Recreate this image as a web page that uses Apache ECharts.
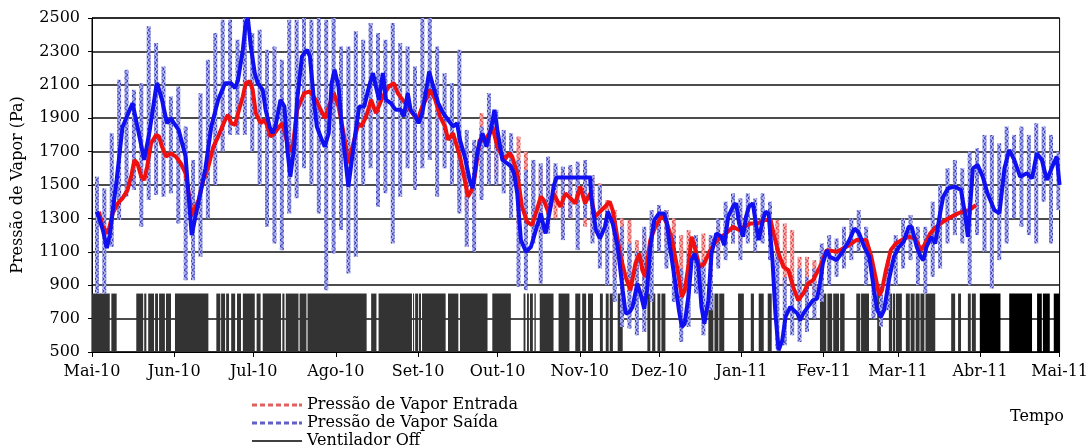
<!DOCTYPE html>
<html>
<head>
<meta charset="utf-8">
<script src="https://cdn.jsdelivr.net/npm/echarts@6/dist/echarts.min.js"></script>
<style>
  html, body { margin: 0; padding: 0; background: #fff; }
  #grafico { width: 1091px; height: 446px; }
</style>
</head>
<body>
<div id="grafico"></div>
<script>
// rótulos dos meses (eixo x)
const meses = ['Jan', 'Fev', 'Mar', 'Abr', 'Mai', 'Jun', 'Jul', 'Ago', 'Set', 'Out', 'Nov', 'Dez'];

// média móvel da pressão de vapor na saída: [dia desde 01/05/2010, Pa]
const mediaSaida = [
  [1.9,1340],[4.1,1230],[5.6,1123],[6.7,1200],[9.3,1530],[11.5,1847],[15.3,1990],[16,2000],[19.7,1650],[21.6,1810],
  [24.2,2087],[24.6,2110],[26.4,2010],[28.3,1870],[29.8,1900],[30.9,1870],[32.7,1830],[35.3,1670],[37.6,1200],[40.2,1400],
  [42.8,1600],[45,1850],[47.6,2010],[50.2,2110],[52.5,2110],[54,2080],[55.1,2130],[56.9,2310],[58,2470],[58.8,2500],
  [59.9,2330],[61.4,2170],[62.5,2110],[64.4,2070],[65.5,1950],[67,1850],[68.1,1810],[69.2,1850],[71.1,2010],[72.6,1970],
  [73.7,1710],[74.8,1550],[76.3,1730],[77.4,2010],[79.2,2270],[81.1,2310],[82.2,2270],[83.7,2010],[84.8,1850],[86.7,1770],
  [87.8,1730],[89.3,1810],[90.4,2110],[91.5,2190],[93,2090],[94.1,1870],[95.2,1710],[96.7,1490],[99,1770],[100.8,1970],
  [102.7,1970],[104.5,2090],[106,2170],[107.1,2090],[108.3,2010],[109.7,2170],[110.9,2010],[112.7,1990],[114.6,1950],[116.5,1950],
  [117.6,1910],[119.1,2050],[120.2,1950],[122,1910],[123.2,1870],[124.6,1930],[126.5,2110],[127.2,2180],[128.7,2090],[130.6,1990],
  [132.5,1930],[134.3,1890],[136.2,1850],[137.7,1870],[138.8,1770],[140.6,1670],[142.5,1530],[143.6,1480],[145.5,1710],[147.3,1810],
  [148.8,1730],[150.7,1850],[151.8,1950],[152.9,1830],[154.8,1650],[156.6,1630],[158.1,1610],[159.2,1570],[160.4,1450],[161.8,1170],
  [163.7,1100],[165.6,1130],[167.8,1250],[169.3,1330],[170.4,1250],[171.1,1210],[173,1370],[174.1,1490],[175.2,1545],[187.9,1545],
  [188.3,1430],[190.1,1230],[191.6,1180],[193.5,1250],[194.6,1340],[196.4,1270],[198.3,1130],[200.2,870],[201.3,730],[202.8,740],
  [203.9,770],[205.7,910],[206.9,850],[208.3,760],[209.4,870],[210.6,1130],[212.1,1290],[213.9,1330],[215.8,1330],[216.9,1270],
  [218,1130],[219.9,930],[221.4,750],[222.5,650],[223.6,670],[225.1,850],[226.2,1050],[227.3,1090],[228.8,1010],[229.9,770],
  [231,670],[232.5,810],[233.7,1090],[235.5,1210],[237.4,1190],[238.5,1140],[240,1310],[241.8,1370],[243,1390],[244.1,1270],
  [245.6,1190],[246.7,1310],[247.8,1370],[249.3,1390],[250.4,1270],[251.5,1170],[253,1290],[254.1,1340],[255.2,1330],[256.7,1050],
  [257.8,730],[259,510],[260.4,570],[261.6,710],[263.4,770],[266.1,730],[267.1,690],[268.3,730],[270.1,770],[272,810],
  [273.5,820],[274.6,910],[275.7,1030],[277.2,1110],[278.3,1070],[280.9,1050],[283.1,1100],[285.7,1170],[287.6,1240],[289.4,1210],
  [291.3,1130],[293.2,1070],[295,870],[296.2,750],[297.6,710],[298.8,750],[300.6,930],[302.5,1070],[304.4,1130],[306.2,1160],
  [308.1,1250],[309.2,1250],[311.1,1130],[312.6,1070],[313.6,1050],[314.8,1130],[316.6,1190],[318.1,1150],[319.9,1330],[321.1,1430],
  [322.9,1480],[325.6,1490],[327.8,1470],[329.3,1330],[330.4,1190],[332.3,1600],[334.1,1620],[336,1550],[337.8,1450],[340.4,1350],
  [342.3,1330],[344.2,1600],[346,1710],[347.9,1650],[350.1,1550],[352.7,1570],[354.6,1540],[356.4,1690],[358.3,1650],[360.2,1530],
  [362,1600],[363.9,1670],[365,1500]
];

// média móvel da pressão de vapor na entrada: [dia, Pa]
const mediaEntrada = [
  [2.6,1340],[4.1,1250],[6,1210],[7.8,1330],[9.7,1390],[11.5,1420],[13.4,1470],[14.9,1560],[16,1650],[17.1,1630],
  [18.6,1550],[19.7,1530],[20.8,1610],[22.3,1750],[24.2,1800],[25.3,1790],[26.4,1730],[27.9,1670],[29.8,1690],[31.6,1670],
  [33.5,1630],[35.3,1570],[36.5,1450],[37.6,1320],[40.2,1410],[42,1530],[43.9,1610],[45.8,1730],[47.6,1790],[50.2,1890],
  [51.3,1920],[52.5,1870],[54,1860],[55.1,1930],[56.9,2030],[58,2110],[59.5,2120],[60.6,2070],[61.8,1930],[63.6,1870],
  [65.1,1890],[66.2,1850],[67.3,1790],[68.8,1810],[70.7,1850],[71.8,1870],[73.7,1750],[75.5,1700],[77.4,1950],[80,2050],
  [82.2,2060],[84.8,2000],[87.8,1900],[91.2,2050],[93,1970],[94.9,1810],[96.7,1630],[98.6,1750],[100.5,1870],[101.6,1850],
  [103.4,1910],[105.3,2010],[107.1,1930],[109.7,2030],[112,2090],[113.9,2110],[115.3,2050],[117.2,2010],[119.1,1970],[120.9,1930],
  [122.8,1890],[124.6,1970],[126.5,2030],[127.6,2070],[129.5,2010],[131.3,1910],[133.2,1850],[134.3,1770],[136.2,1810],[138.8,1670],
  [140.6,1530],[141.8,1430],[143.2,1470],[144.4,1550],[146.2,1770],[148.1,1770],[150,1810],[151,1850],[152.9,1730],[155.6,1650],
  [157.4,1690],[158.5,1670],[160.4,1570],[162.2,1370],[164.1,1280],[166,1260],[167.8,1350],[169.3,1430],[170.4,1410],[172.3,1330],
  [174.1,1450],[176.7,1370],[178.6,1450],[180.5,1420],[182.3,1390],[184.2,1490],[186,1390],[187.9,1450],[189.8,1310],[191.6,1340],
  [193.5,1370],[195.3,1400],[196.4,1350],[197.5,1250],[199.4,1070],[201.3,950],[203.1,870],[205,1030],[206.5,1090],[207.6,990],
  [208.7,950],[210.6,1170],[212.5,1250],[215.1,1320],[216.9,1270],[218.8,1170],[220.7,1010],[222.5,830],[223.6,870],[225.1,1030],
  [226.2,1190],[227.3,1130],[229.2,1010],[231,1030],[232.9,1100],[234.8,1150],[236.6,1180],[239.2,1210],[241.8,1250],[244.1,1230],
  [246,1250],[248.5,1270],[251.1,1270],[253.4,1290],[256,1290],[257.1,1210],[259,1090],[260.8,1010],[262.7,990],[264.5,890],
  [266.4,810],[268.3,850],[270.1,910],[272,930],[274.6,1010],[277.2,1110],[280.9,1100],[284.6,1130],[288.3,1170],[292.1,1170],
  [294,1070],[295.8,930],[296.9,840],[298,870],[299.5,990],[301.3,1110],[303.2,1150],[305.5,1170],[308.1,1190],[310.7,1180],
  [312.6,1110],[314.4,1150],[316.2,1210],[318.5,1250],[321.1,1280],[324.1,1310],[326.7,1330],[328.5,1340],[331.1,1350],[333.4,1380]
];

// oscilação diária (faixas): máximos e mínimos, uma faixa a cada passoBanda dias
const inicioBanda = 1.86;
const passoBanda = 2.79;
const saidaMax = [
  1550,1480,1810,2130,2190,2070,2110,2450,2350,2210, 2030,2090,1850,1650,2050,2250,2410,2490,2490,2370,
  2500,2410,2430,2310,2330,2250,2490,2490,2500,2490, 2500,2490,2500,2330,2330,2420,2370,2470,2410,2370,
  2470,2350,2330,2210,2500,2500,2330,2170,2110,2310, 1830,1770,1850,2050,1950,1830,1810,1650,1590,1650,
  1630,1670,1630,1610,1620,1640,1650,1560,1500,1350, 1300,1250,1150,1100,1250,1350,1380,1350,1200,1000,
  1100,1200,1050,1200,1300,1400,1450,1420,1450,1420, 1450,1400,1150,950,950,1000,950,1000,1150,1200,
  1180,1250,1300,1350,1250,1000,900,1050,1200,1300, 1320,1250,1250,1400,1500,1600,1650,1600,1700,1720,
  1800,1800,1750,1850,1800,1850,1800,1870,1850,1800, 1700
];
const saidaMin = [
  850,850,1130,1290,1430,1470,1250,1410,1440,1430, 1450,1270,930,930,1070,1300,1500,1700,1800,1800,
  1800,1700,1500,1250,1150,1110,1330,1420,1600,1500, 1330,870,1090,1230,970,1070,1500,1600,1370,1450,
  1150,1430,1600,1470,1600,1650,1430,1600,1500,1330, 1130,1100,1410,1500,1500,1450,1300,890,870,1150,
  910,1210,1470,1170,1300,1110,1300,1150,1000,900, 800,650,640,600,620,800,1100,1000,800,560,
  650,850,600,750,1000,1050,1150,1050,1150,1100, 1150,1050,520,540,600,560,620,700,800,900,
  950,1000,1050,1100,900,700,650,750,900,1000, 1050,900,850,950,1000,1150,1200,1150,900,1200,
  1100,880,1050,1150,1300,1250,1200,1150,1400,1150, 1350
];
// faixas da entrada visíveis (a partir da faixa 48)
const inicioEntrada = 48;
const entradaMax = [
  1900,1850,1700,1700,1930,1900,1850,1800,1750,1790, 1700,1650,1600,1650,1600,1580,1600,1550,1600,1550,
  1510,1410,1350,1300,1290,1170,1200,1250,1300,1350, 1300,1200,1230,1150,1210,1190,1250,1300,1300,1320,
  1320,1300,1330,1320,1290,1270,1230,1070,1070,1050, 1100,1150
];
const entradaMin = [
  1500,1400,1350,1350,1500,1550,1550,1500,1450,1250, 1200,1250,1200,1250,1300,1250,1300,1200,1250,1200,
  1200,1100,950,850,850,850,850,1000,1100,1150, 1000,800,850,900,900,950,1050,1150,1150,1150,
  1200,1200,1200,1150,1000,900,850,750,750,800, 850,950
];

// períodos com ventilador desligado: [dia início, dia fim]
const ventiladorOff = [
  [0,6.7],[7.3,9.3],[16.7,19.3],[19.7,20.5],[21.2,23.4],[23.8,24.9],[25.3,27.5],[27.9,29.8],[31.3,43.9],[46.9,48.4],
  [48.7,50.2],[50.6,51.7],[52.5,54],[54.7,56.2],[56.9,61.4],[62.1,63.6],[64.4,71.3],[71.8,72.6],[73.1,77.9],[78.3,80.9],
  [81.3,103.6],[105.3,107.3],[108.1,120.7],[121.1,121.5],[121.9,123],[123.3,124.1],[124.5,133.4],[134.3,138.2],[138.8,149.2],[151,158],
  [162.8,163.5],[164.1,164.8],[165.2,166.3],[166.9,167.4],[168.9,174.1],[176,180.1],[182.3,184.2],[184.9,186.4],[187.1,189],[191.6,192.7],
  [193.8,194.9],[195.3,196.5],[198.3,200.2],[209.5,210.6],[211.3,212.5],[213.3,214.4],[214.8,216.3],[232.5,234.4],[234.8,236.3],[236.6,238.5],
  [243.7,245.9],[248.5,249.7],[251.5,253.4],[254.9,256.4],[274.6,277],[277.4,279.2],[279.6,281.8],[282.2,283.9],[288.3,289.8],[290.1,293.1],
  [296.2,297.6],[300.6,301.8],[302.1,302.9],[303.2,305.5],[307,308.5],[308.8,310.3],[310.7,312.2],[312.5,314],[314.4,318.1],[324.1,325.6],
  [326.7,327.8],[330.4,331.5],[331.9,333.4]
];
const ventiladorOffFinal = [[334.9,342.7],[346,354.6],[356.5,358.3],[358.7,361.3],[362.8,365]];
const nivelOff = 850;
const nivelBase = 500;

const t0 = new Date(2010, 4, 1).getTime();
const tFim = new Date(2011, 4, 1).getTime();
const DIA = 86400000;
function tempo(d) { return t0 + d * DIA; }

// textura hachurada das faixas
function hachura(fundo, traco) {
  const c = document.createElement('canvas');
  c.width = 4; c.height = 6;
  const g = c.getContext('2d');
  g.fillStyle = fundo;
  g.fillRect(0, 0, 4, 6);
  g.strokeStyle = traco;
  g.lineWidth = 1;
  g.beginPath(); g.moveTo(0, 0); g.lineTo(4, 3); g.lineTo(0, 6); g.stroke();
  return { image: c, repeat: 'repeat' };
}

function faixas(maximos, minimos, inicio) {
  return maximos.map((v, i) => [tempo(inicioBanda + passoBanda * (inicio + i)), minimos[i], v]);
}

function desenhaFaixa(cor) {
  return function (params, api) {
    const topo = api.coord([api.value(0), api.value(2)]);
    const base = api.coord([api.value(0), api.value(1)]);
    return {
      type: 'rect',
      shape: { x: topo[0] - 2, y: topo[1], width: 4, height: base[1] - topo[1] },
      style: { fill: cor }
    };
  };
}

function desenhaOff(cor) {
  return function (params, api) {
    const a = api.coord([api.value(0), nivelOff]);
    const b = api.coord([api.value(1), nivelBase]);
    return {
      type: 'rect',
      shape: { x: a[0], y: a[1], width: Math.max(1, b[0] - a[0]), height: b[1] - a[1] },
      style: { fill: cor }
    };
  };
}

const fonte = 'DejaVu Serif';
const iconeTracejado = 'path://M0,0h5v3h-5zM8,0h5v3h-5zM16,0h5v3h-5zM24,0h5v3h-5zM32,0h5v3h-5zM40,0h5v3h-5zM47,0h3v3h-3z';

// uma legenda por linha, para não quebrar em colunas
function legenda(topo, item) {
  return {
    orient: 'vertical',
    left: 252,
    top: topo,
    itemWidth: 50,
    itemHeight: 4,
    padding: 0,
    textStyle: { fontFamily: fonte, fontSize: 16, color: '#000' },
    data: [item]
  };
}

const grafico = echarts.init(document.getElementById('grafico'));

grafico.setOption({
  animation: false,
  textStyle: { fontFamily: fonte, color: '#000' },
  title: {
    text: 'Tempo',
    left: 1005,
    top: 404,
    textStyle: { fontFamily: fonte, fontSize: 16, fontWeight: 'normal', color: '#000' }
  },
  grid: { left: 92, right: 17, top: 18, bottom: 94, show: true, borderColor: '#000', borderWidth: 1 },
  legend: [
    legenda(397, { name: 'Pressão de Vapor Entrada', icon: iconeTracejado, itemStyle: { color: '#e06060' } }),
    legenda(415, { name: 'Pressão de Vapor Saída', icon: iconeTracejado, itemStyle: { color: '#6060c8' } }),
    legenda(433, { name: 'Ventilador Off', icon: 'path://M0,0h50v1.3h-50z', itemStyle: { color: '#000' } })
  ],
  xAxis: {
    type: 'time',
    min: t0,
    max: tFim,
    minInterval: 28 * DIA,
    maxInterval: 31 * DIA,
    splitLine: { show: false },
    axisLine: { lineStyle: { color: '#000', width: 1 } },
    axisTick: { show: true, length: 5, lineStyle: { color: '#000' } },
    axisLabel: {
      fontFamily: fonte,
      fontSize: 16,
      color: '#000',
      margin: 12,
      showMinLabel: true,
      showMaxLabel: true,
      hideOverlap: false,
      formatter: function (v) {
        const d = new Date(v);
        return meses[d.getMonth()] + '-' + String(d.getFullYear()).slice(2);
      }
    }
  },
  yAxis: {
    type: 'value',
    min: 500,
    max: 2500,
    interval: 200,
    name: 'Pressão de Vapor (Pa)',
    nameLocation: 'middle',
    nameGap: 66,
    nameTextStyle: { fontFamily: fonte, fontSize: 16, color: '#000' },
    axisLine: { show: true, lineStyle: { color: '#000', width: 1 } },
    axisTick: { show: true, length: 4, lineStyle: { color: '#000' } },
    axisLabel: { fontFamily: fonte, fontSize: 16, color: '#000', margin: 12, formatter: v => String(v) },
    splitLine: { show: true, lineStyle: { color: '#111', width: 1.6 } }
  },
  series: [
    {
      name: 'Ventilador Off',
      type: 'custom',
      renderItem: desenhaOff('#333'),
      itemStyle: { color: '#000' },
      data: ventiladorOff.map(p => [tempo(p[0]), tempo(p[1])]),
      encode: { x: [0, 1] },
      z: 1
    },
    {
      name: 'Ventilador Off',
      type: 'custom',
      renderItem: desenhaOff('#000'),
      itemStyle: { color: '#000' },
      data: ventiladorOffFinal.map(p => [tempo(p[0]), tempo(p[1])]),
      encode: { x: [0, 1] },
      z: 1
    },
    {
      name: 'Pressão de Vapor Entrada',
      type: 'custom',
      renderItem: desenhaFaixa(hachura('#f2aaaa', '#e03c3c')),
      itemStyle: { color: '#e06060' },
      data: faixas(entradaMax, entradaMin, inicioEntrada),
      encode: { x: 0, y: [1, 2] },
      clip: true,
      z: 2
    },
    {
      name: 'Pressão de Vapor Saída',
      type: 'custom',
      renderItem: desenhaFaixa(hachura('#a8aeea', '#3434b4')),
      itemStyle: { color: '#6060c8' },
      data: faixas(saidaMax, saidaMin, 0),
      encode: { x: 0, y: [1, 2] },
      clip: true,
      z: 3
    },
    {
      name: 'Média Entrada',
      type: 'line',
      showSymbol: false,
      data: mediaEntrada.map(p => [tempo(p[0]), p[1]]),
      lineStyle: { color: '#f01010', width: 4 },
      itemStyle: { color: '#f01010' },
      z: 4
    },
    {
      name: 'Média Saída',
      type: 'line',
      showSymbol: false,
      data: mediaSaida.map(p => [tempo(p[0]), p[1]]),
      lineStyle: { color: '#1010f0', width: 4 },
      itemStyle: { color: '#1010f0' },
      z: 5
    }
  ]
});
</script>
</body>
</html>
